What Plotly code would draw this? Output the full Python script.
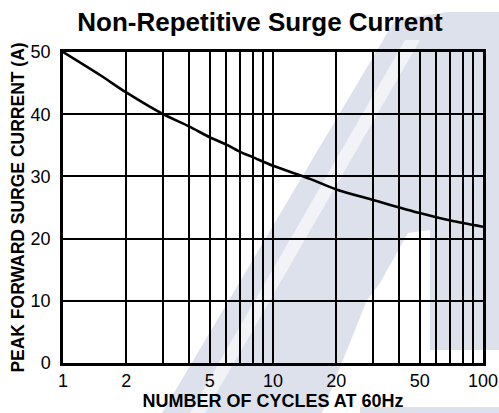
import plotly.graph_objects as go

# surge curve
cycles = [1, 1.5, 2, 3, 4, 5, 6, 7, 8, 10, 15, 20, 30, 50, 70, 100]
surge_amps = [50, 46.3, 43.5, 40, 38.0, 36.3, 35.1, 33.9, 33.1, 31.7, 29.6, 27.9, 26.2, 24.1, 22.9, 21.9]

x_grid = [1, 2, 3, 4, 5, 6, 7, 8, 9, 10, 20, 30, 40, 50, 60, 70, 80, 90, 100]
x_labelled = [1, 2, 5, 10, 20, 50, 100]
x_ticktext = [str(v) if v in x_labelled else "" for v in x_grid]
y_ticks = [0, 10, 20, 30, 40, 50]

W, H = 499, 413
L, T = 63, 52
R, B = W - 483, H - 363
PW, PH = W - L - R, H - T - B


def px_path(points):
    # watermark outline given in page pixels -> paper coords
    parts = []
    for i, (px, py) in enumerate(points):
        xp = (px - L) / PW
        yp = (H - B - py) / PH
        parts.append(("M" if i == 0 else "L") + f"{xp:.4f},{yp:.4f}")
    return " ".join(parts) + " Z"


wm = "#dde1ec"
watermark = [
    [(162, 413), (395, 20), (447, 12), (499, 12), (499, 350), (430, 350),
     (430, 230), (408, 233), (380, 283), (367, 300), (343, 360), (322, 413)],
    [(360, 407), (499, 407), (499, 413), (360, 413)],
]
highlight = [(190, 413), (205, 413), (420, 40), (405, 40)]

fig = go.Figure()
fig.add_trace(go.Scatter(
    x=cycles, y=surge_amps,
    mode="lines",
    line=dict(color="black", width=2.6, shape="spline", smoothing=0.8),
    showlegend=False,
    hoverinfo="skip",
))

shapes = [
    dict(type="path", path=px_path(p), xref="paper", yref="paper",
         fillcolor=wm, line=dict(width=0), layer="below")
    for p in watermark
]
shapes.append(dict(type="path", path=px_path(highlight), xref="paper", yref="paper",
                   fillcolor="rgba(255,255,255,0.6)", line=dict(width=0), layer="below"))

font = "Liberation Sans, Arial, sans-serif"
fig.update_layout(
    width=W, height=H,
    margin=dict(l=L, r=R, t=T, b=B),
    paper_bgcolor="white",
    plot_bgcolor="rgba(0,0,0,0)",
    shapes=shapes,
    font=dict(family=font, color="black", size=18),
    title=dict(
        text="<b>Non-Repetitive Surge Current</b>",
        font=dict(size=26, family=font, color="black"),
        x=260 / W, xref="container", xanchor="center",
        y=1 - 22 / H, yref="container", yanchor="middle",
    ),
    xaxis=dict(
        type="log", range=[0, 2], automargin=False,
        tickvals=x_grid, ticktext=x_ticktext,
        showgrid=True, gridcolor="black", gridwidth=2,
        showline=True, linecolor="black", linewidth=2.5, mirror=True,
        ticks="", ticklen=0,
        title=dict(text="<b>NUMBER OF CYCLES AT 60Hz</b>", font=dict(size=18), standoff=2),
        zeroline=False,
    ),
    yaxis=dict(
        range=[0, 50], tickvals=y_ticks, automargin=False,
        showgrid=True, gridcolor="black", gridwidth=2,
        showline=True, linecolor="black", linewidth=2.5, mirror=True,
        ticks="", ticklen=0, ticklabelstandoff=6,
        title=dict(text="<b>PEAK FORWARD SURGE CURRENT (A)</b>", font=dict(size=17.5), standoff=2),
        zeroline=False,
    ),
)

# drop the browser's default body margin so the figure fills the window
fig.write_html(
    "out.html",
    config={"displayModeBar": False},
    post_script="document.body.style.margin='0';document.body.style.overflow='hidden';",
)
